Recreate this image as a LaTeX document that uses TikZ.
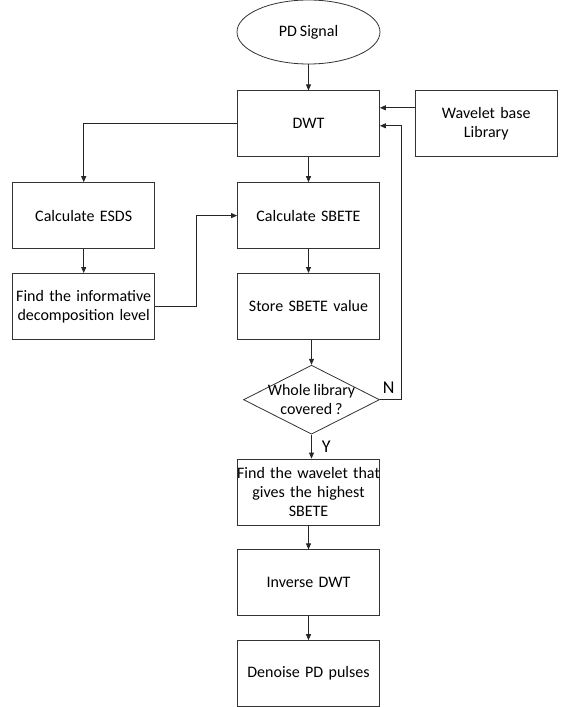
\documentclass[tikz,border=0pt]{standalone}
\usepackage{fontspec}
\setmainfont{Carlito}[WordSpace=0.85]
\usetikzlibrary{arrows.meta,positioning,shapes.geometric}

\begin{document}
\begin{tikzpicture}[
  x=1pt,y=1pt,
  box/.style={draw=black!80,line width=0.8pt,align=center,minimum width=142pt,minimum height=66pt,text width=150pt,inner xsep=-4pt,inner ysep=1pt,font=\fontsize{16}{19}\selectfont},
  term/.style={draw=black!80,line width=0.8pt,ellipse,minimum width=143pt,minimum height=64pt,inner sep=0pt,font=\fontsize{16}{19}\selectfont},
  decision/.style={draw=black!80,line width=0.8pt,diamond,minimum width=136pt,minimum height=69pt,inner sep=0pt},
  flow/.style={-{Triangle[length=6pt,width=5pt]},line width=0.8pt,draw=black!85},
  tag/.style={font=\fontsize{18}{19}\selectfont,inner sep=1pt},
  node distance=24pt and 82pt
]
\useasboundingbox (0,0) rectangle (564,-707);
\node[term] (sig) at (308.5,-32) {PD Signal};
\node[box,below=26pt of sig] (dwt) {DWT};
\node[box,right=35pt of dwt] (lib) {Wavelet base\\Library};
\node[box,below=25pt of dwt] (sbete) {Calculate SBETE};
\node[box,below=of sbete] (store) {Store SBETE value};
\node[box,left=of sbete] (esds) {Calculate ESDS};
\node[box,below=of esds] (info) {Find the informative\\decomposition level};
\node[decision,below=25pt of store,xshift=3pt,
  label={[align=center,font=\fontsize{16}{19}\selectfont]center:Whole library\\covered ?}] (cov) {};
\node[box,below=of cov,xshift=-3pt] (best) {Find the wavelet that\\gives the highest\\SBETE};
\node[box,below=of best] (inv) {Inverse DWT};
\node[box,below=of inv] (den) {Denoise PD pulses};
\draw[flow] (sig) -- (dwt);
\draw[flow] ([yshift=16pt]lib.west) -- ([yshift=16pt]dwt.east);
\draw[flow] (dwt.west) -| (esds.north);
\draw[flow] (dwt) -- (sbete);
\draw[flow] (esds) -- (info);
\draw[flow] (info.east) -- ++(41,0) |- (sbete.west);
\draw[flow] (sbete) -- (store);
\draw[flow] (cov.north |- store.south) -- (cov.north);
\draw[flow] (cov.east) -- ++(21,0) node[tag,above left=5pt and 5pt]{N} |- ([yshift=-2pt]dwt.east);
\draw[flow] (cov.south) -- node[tag,right=9pt]{Y} (cov.south |- best.north);
\draw[flow] (best) -- (inv);
\draw[flow] (inv) -- (den);
\end{tikzpicture}
\end{document}
